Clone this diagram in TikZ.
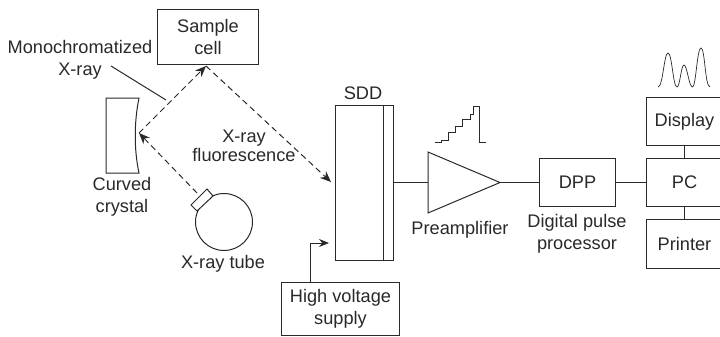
\documentclass[tikz,border=0pt]{standalone}
\usepackage{fontspec}
\setmainfont{Liberation Sans}
\usetikzlibrary{arrows.meta}
\definecolor{ink}{gray}{0.16}
\tikzset{
 x=1pt,y=-1pt,
 line/.style={draw=ink,line width=1pt},
 boxnode/.style={line,fill=white,inner sep=0pt,anchor=north west,align=center,text=ink,font=\fontsize{18.2}{22}\selectfont},
 lab/.style={text=ink,align=center,inner sep=0pt,font=\fontsize{18.2}{22}\selectfont},
 ray/.style={line,dash pattern=on 6pt off 4pt,-{Stealth[length=11pt,width=9pt]}},
 wire/.style={line},
 tip/.style={line,-{Stealth[length=10pt,width=8pt]}}
}
\begin{document}
\begin{tikzpicture}
\useasboundingbox (0,0) rectangle (720,337);
\clip (0,0) rectangle (720,337);
\node[boxnode,minimum width=101pt,minimum height=55pt] (cell) at (157,9) {Sample\\cell};
\node[boxnode,minimum width=76pt,minimum height=48pt] (dpp) at (539,158) {DPP};
\node[boxnode,minimum width=80pt,minimum height=48pt] (disp) at (646,97) {Display\hspace*{4pt}};
\node[boxnode,minimum width=80pt,minimum height=48pt] (pc) at (646,158) {PC\hspace*{4pt}};
\node[boxnode,minimum width=80pt,minimum height=49pt] (prn) at (646,219) {Printer\hspace*{4pt}};
\node[boxnode,minimum width=118pt,minimum height=53pt] (hv) at (281,282) {High voltage\\supply};
\node[boxnode,minimum width=58pt,minimum height=155pt] (sdd) at (335,105) {};
\draw[line] (383.5,105) -- (383.5,260);
\node[lab] (sddl) at (363,93) {SDD};
% crystal
\draw[line] (106,98) -- (139,98) .. controls (134,122) and (134,150) .. (139,173) -- (106,173) -- cycle;
\coordinate (focus) at (139,133);
\node[lab] (cc) at (122,197) {Curved\\crystal};
% tube
\node[line,circle,minimum size=57pt,inner sep=0pt] (tube) at (224,222) {};
\draw[line,fill=white] (191,205) -- (207,189) -- (213,196) -- (197,211) -- cycle;
\coordinate (tubeout) at (197,193);
\node[lab] (tl) at (223,264) {X-ray tube};
% rays
\coordinate (cellb) at (206,66);
\coordinate (sddin) at (331,182);
\draw[ray] (tubeout) -- (focus);
\draw[ray] (focus) -- (cellb);
\draw[ray] (cellb) -- (sddin);
\node[lab,font=\fontsize{18.2}{18.5}\selectfont] (fl) at (244,146) {X-ray\\fluorescence};
\node[lab] (mono) at (80,60) {Monochromatized\\X-ray};
\coordinate (mstart) at (111,66);
\coordinate (mend) at (166,100);
\draw[line] (mstart) -- (mend);
% hv arrow
\coordinate (hvin) at (329,243);
\draw[tip] (310,282) |- (hvin);
% amplifier
\draw[line] (428,152) -- (428,213) -- (500,182.5) -- cycle;
\coordinate (tria) at (428,182.5);
\coordinate (trib) at (500,182.5);
\draw[wire] (393,182.5) -- (tria);
\draw[wire] (trib) -- (dpp.west);
\draw[wire] (dpp.east) -- (646,182.5);
\draw[wire] (684,145) -- (684,158);
\draw[wire] (684,206) -- (684,219);
\node[lab] (pre) at (460,230) {Preamplifier};
\node[lab] (dl) at (577,234) {Digital pulse\\processor};
% staircase
\draw[line] (434.5,142.3) -- (441.7,142.3) -- (441.7,140) -- (448.3,140) -- (448.3,132.7) -- (455.7,132.7) -- (455.7,126.7) -- (462.7,126.7) -- (462.7,119) -- (470,119) -- (470,114.3) -- (473.3,114.3) -- (473.3,106.3) -- (479.7,106.3) -- (479.7,142.3) -- (485.7,142.3);
% peaks
\draw[line,line width=0.7pt] (658,87) .. controls (663,87) and (664,53) .. (668,53) .. controls (672,53) and (673,87) .. (677,87) .. controls (680,87) and (681,65) .. (684,65) .. controls (687,65) and (689,87) .. (692.5,87) .. controls (696,87) and (697,48) .. (701,48) .. controls (705,48) and (705,87) .. (710,87);
\end{tikzpicture}
\end{document}
